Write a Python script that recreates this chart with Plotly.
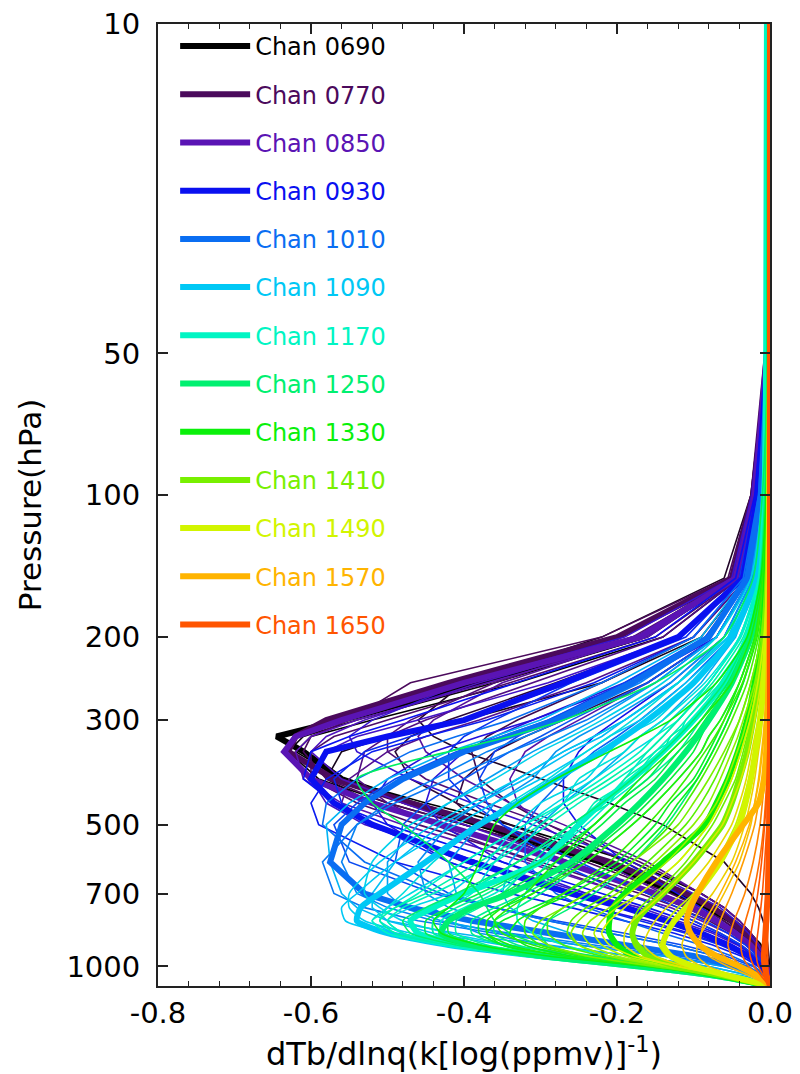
import math
import plotly.graph_objects as go

# ---------------- data ----------------
P_HPA = [10, 50, 100, 150, 200, 250, 300, 325, 350, 400, 450, 500,
         600, 700, 750, 800, 850, 900, 950, 1000, 1050, 1100]

CHANNELS = ["0690", "0770", "0850", "0930", "1010", "1090", "1170",
            "1250", "1330", "1410", "1490", "1570", "1650"]

CHANNEL_COLORS = ["#000000", "#4b0a5c", "#5a14b4", "#0a10f0", "#0a6ef2",
                  "#00c8f5", "#00f5c3", "#00f070", "#0af00a", "#78f000",
                  "#d2f500", "#ffb400", "#ff5500"]

THICK_0690 = [0, -0.003, -0.02, -0.045, -0.17, -0.38, -0.56, -0.645, -0.61, -0.56, -0.47, -0.38, -0.22, -0.12, -0.08, -0.05, -0.03, -0.015, -0.007, -0.003, -0.001, 0]
THIN_0690 = [
    [0, -0.003, -0.018, -0.04, -0.14, -0.33, -0.52, -0.60, -0.62, -0.56, -0.45, -0.34, -0.18, -0.09, -0.06, -0.04, -0.025, -0.014, -0.007, -0.003, -0.001, 0],
    [0, -0.003, -0.02, -0.045, -0.16, -0.36, -0.54, -0.61, -0.63, -0.59, -0.50, -0.40, -0.23, -0.12, -0.08, -0.05, -0.03, -0.017, -0.008, -0.003, -0.001, 0],
    [0, -0.002, -0.012, -0.03, -0.09, -0.22, -0.40, -0.50, -0.56, -0.58, -0.52, -0.43, -0.27, -0.15, -0.10, -0.07, -0.045, -0.027, -0.014, -0.006, -0.002, 0],
    [0, -0.004, -0.025, -0.06, -0.22, -0.40, -0.46, -0.44, -0.40, -0.30, -0.21, -0.14, -0.06, -0.025, -0.015, -0.009, -0.005, -0.003, -0.001, 0, 0, 0],
    [0, -0.003, -0.015, -0.035, -0.12, -0.28, -0.42, -0.47, -0.49, -0.47, -0.41, -0.34, -0.21, -0.12, -0.085, -0.06, -0.038, -0.022, -0.011, -0.004, -0.001, 0],
    [0, -0.002, -0.01, -0.025, -0.07, -0.16, -0.27, -0.32, -0.36, -0.40, -0.41, -0.38, -0.27, -0.16, -0.11, -0.075, -0.05, -0.03, -0.016, -0.007, -0.002, 0],
    [0, -0.002, -0.012, -0.03, -0.10, -0.22, -0.33, -0.37, -0.39, -0.38, -0.34, -0.29, -0.19, -0.11, -0.08, -0.055, -0.035, -0.02, -0.01, -0.004, -0.001, 0],
]

THICK_0770 = [0, -0.004, -0.022, -0.05, -0.20, -0.42, -0.58, -0.62, -0.63, -0.57, -0.47, -0.37, -0.21, -0.11, -0.075, -0.05, -0.03, -0.018, -0.009, -0.004, -0.001, 0]
THIN_0770 = [
    [0, -0.004, -0.025, -0.055, -0.22, -0.47, -0.55, -0.60, -0.61, -0.58, -0.50, -0.40, -0.24, -0.13, -0.09, -0.06, -0.035, -0.02, -0.01, -0.004, -0.001, 0],
    [0, -0.003, -0.018, -0.04, -0.15, -0.34, -0.50, -0.57, -0.60, -0.60, -0.54, -0.46, -0.30, -0.17, -0.12, -0.08, -0.05, -0.03, -0.015, -0.006, -0.002, 0],
    [0, -0.003, -0.02, -0.045, -0.18, -0.36, -0.47, -0.50, -0.50, -0.45, -0.37, -0.29, -0.17, -0.09, -0.06, -0.04, -0.025, -0.014, -0.007, -0.003, -0.001, 0],
    [0, -0.003, -0.017, -0.04, -0.14, -0.31, -0.45, -0.50, -0.53, -0.54, -0.50, -0.44, -0.31, -0.19, -0.14, -0.10, -0.065, -0.038, -0.019, -0.008, -0.002, 0],
    [0, -0.002, -0.012, -0.03, -0.10, -0.24, -0.38, -0.45, -0.50, -0.55, -0.56, -0.52, -0.40, -0.26, -0.19, -0.13, -0.085, -0.05, -0.026, -0.011, -0.003, 0],
    [0, -0.003, -0.02, -0.045, -0.17, -0.35, -0.44, -0.46, -0.45, -0.40, -0.34, -0.27, -0.16, -0.09, -0.06, -0.04, -0.025, -0.014, -0.007, -0.003, -0.001, 0],
    [0, -0.002, -0.01, -0.024, -0.07, -0.16, -0.25, -0.29, -0.32, -0.34, -0.33, -0.30, -0.22, -0.14, -0.10, -0.07, -0.045, -0.026, -0.013, -0.005, -0.001, 0],
]

THICK_0850 = [0, -0.004, -0.02, -0.045, -0.17, -0.40, -0.56, -0.62, -0.635, -0.60, -0.52, -0.43, -0.27, -0.15, -0.10, -0.07, -0.045, -0.026, -0.013, -0.005, -0.001, 0]
THIN_0850 = [
    [0, -0.003, -0.02, -0.045, -0.16, -0.37, -0.54, -0.60, -0.62, -0.61, -0.56, -0.48, -0.32, -0.19, -0.13, -0.09, -0.055, -0.032, -0.016, -0.006, -0.002, 0],
    [0, -0.003, -0.02, -0.045, -0.17, -0.38, -0.53, -0.58, -0.60, -0.56, -0.48, -0.40, -0.26, -0.15, -0.11, -0.075, -0.048, -0.028, -0.014, -0.005, -0.001, 0],
    [0, -0.003, -0.015, -0.035, -0.12, -0.29, -0.46, -0.54, -0.58, -0.60, -0.58, -0.53, -0.38, -0.24, -0.17, -0.12, -0.075, -0.043, -0.021, -0.008, -0.002, 0],
    [0, -0.004, -0.024, -0.05, -0.19, -0.40, -0.52, -0.55, -0.54, -0.47, -0.39, -0.31, -0.18, -0.10, -0.065, -0.045, -0.028, -0.016, -0.008, -0.003, -0.001, 0],
    [0, -0.002, -0.012, -0.028, -0.08, -0.19, -0.31, -0.36, -0.40, -0.44, -0.45, -0.43, -0.35, -0.24, -0.18, -0.13, -0.085, -0.05, -0.025, -0.01, -0.003, 0],
    [0, -0.002, -0.01, -0.025, -0.07, -0.18, -0.31, -0.38, -0.44, -0.50, -0.52, -0.50, -0.42, -0.30, -0.23, -0.16, -0.105, -0.062, -0.031, -0.012, -0.003, 0],
    [0, -0.002, -0.01, -0.022, -0.06, -0.13, -0.20, -0.23, -0.25, -0.27, -0.27, -0.25, -0.19, -0.12, -0.09, -0.065, -0.042, -0.025, -0.012, -0.005, -0.001, 0],
]

THICK_0930 = [0, -0.003, -0.016, -0.035, -0.12, -0.27, -0.40, -0.50, -0.58, -0.60, -0.57, -0.52, -0.39, -0.26, -0.19, -0.135, -0.09, -0.055, -0.028, -0.011, -0.003, 0]
THIN_0930 = [
    [0, -0.004, -0.02, -0.045, -0.15, -0.33, -0.48, -0.55, -0.60, -0.61, -0.57, -0.50, -0.35, -0.22, -0.16, -0.11, -0.07, -0.04, -0.02, -0.008, -0.002, 0],
    [0, -0.003, -0.015, -0.035, -0.10, -0.23, -0.37, -0.45, -0.52, -0.58, -0.60, -0.59, -0.49, -0.34, -0.26, -0.19, -0.125, -0.075, -0.038, -0.015, -0.004, 0],
    [0, -0.003, -0.016, -0.036, -0.11, -0.26, -0.40, -0.47, -0.53, -0.57, -0.56, -0.52, -0.42, -0.30, -0.23, -0.17, -0.11, -0.065, -0.032, -0.012, -0.003, 0],
    [0, -0.003, -0.018, -0.04, -0.12, -0.26, -0.36, -0.40, -0.42, -0.42, -0.39, -0.35, -0.25, -0.16, -0.12, -0.085, -0.055, -0.032, -0.016, -0.006, -0.002, 0],
    [0, -0.002, -0.012, -0.028, -0.085, -0.19, -0.29, -0.33, -0.36, -0.38, -0.37, -0.35, -0.28, -0.19, -0.14, -0.10, -0.065, -0.038, -0.019, -0.008, -0.002, 0],
    [0, -0.002, -0.012, -0.03, -0.08, -0.18, -0.29, -0.35, -0.41, -0.49, -0.54, -0.57, -0.55, -0.44, -0.36, -0.28, -0.19, -0.115, -0.058, -0.022, -0.005, 0],
    [0, -0.002, -0.01, -0.024, -0.07, -0.16, -0.26, -0.30, -0.34, -0.40, -0.45, -0.48, -0.49, -0.42, -0.36, -0.29, -0.21, -0.13, -0.07, -0.03, -0.008, 0],
    [0, -0.001, -0.008, -0.018, -0.05, -0.11, -0.17, -0.20, -0.23, -0.27, -0.30, -0.32, -0.32, -0.28, -0.24, -0.19, -0.14, -0.09, -0.05, -0.02, -0.005, 0],
]

THICK_1010 = [0, -0.002, -0.012, -0.03, -0.08, -0.18, -0.28, -0.34, -0.40, -0.48, -0.53, -0.56, -0.575, -0.53, -0.47, -0.39, -0.29, -0.19, -0.10, -0.04, -0.01, 0]
THIN_1010 = [
    [0, -0.003, -0.015, -0.035, -0.10, -0.22, -0.34, -0.41, -0.47, -0.54, -0.58, -0.585, -0.53, -0.43, -0.36, -0.29, -0.21, -0.13, -0.07, -0.028, -0.007, 0],
    [0, -0.002, -0.01, -0.025, -0.07, -0.15, -0.24, -0.29, -0.34, -0.42, -0.49, -0.54, -0.585, -0.57, -0.53, -0.46, -0.36, -0.25, -0.14, -0.06, -0.015, 0],
    [0, -0.002, -0.012, -0.028, -0.08, -0.17, -0.27, -0.32, -0.37, -0.44, -0.50, -0.54, -0.56, -0.54, -0.50, -0.44, -0.34, -0.23, -0.13, -0.055, -0.014, 0],
    [0, -0.002, -0.01, -0.022, -0.06, -0.12, -0.19, -0.23, -0.27, -0.33, -0.38, -0.42, -0.46, -0.45, -0.42, -0.37, -0.29, -0.20, -0.11, -0.045, -0.012, 0],
    [0, -0.002, -0.01, -0.022, -0.06, -0.13, -0.21, -0.25, -0.28, -0.31, -0.36, -0.38, -0.42, -0.41, -0.44, -0.42, -0.38, -0.29, -0.18, -0.08, -0.02, 0],
    [0, -0.002, -0.011, -0.025, -0.07, -0.15, -0.23, -0.27, -0.31, -0.37, -0.42, -0.46, -0.50, -0.50, -0.48, -0.43, -0.35, -0.25, -0.14, -0.06, -0.015, 0],
    [0, -0.001, -0.007, -0.016, -0.045, -0.09, -0.14, -0.17, -0.19, -0.23, -0.27, -0.30, -0.34, -0.35, -0.34, -0.31, -0.26, -0.19, -0.11, -0.05, -0.013, 0],
    [0, -0.003, -0.014, -0.032, -0.09, -0.20, -0.30, -0.36, -0.42, -0.50, -0.55, -0.58, -0.575, -0.56, -0.54, -0.50, -0.41, -0.30, -0.18, -0.08, -0.02, 0],
    [0, -0.002, -0.009, -0.02, -0.055, -0.12, -0.19, -0.22, -0.26, -0.32, -0.38, -0.43, -0.49, -0.52, -0.52, -0.50, -0.44, -0.35, -0.23, -0.11, -0.03, 0],
]

THICK_1090 = [0, -0.002, -0.008, -0.018, -0.05, -0.10, -0.16, -0.19, -0.22, -0.28, -0.33, -0.38, -0.45, -0.51, -0.535, -0.54, -0.50, -0.42, -0.30, -0.16, -0.06, 0]
THIN_1090 = [
    [0, -0.002, -0.008, -0.02, -0.05, -0.11, -0.17, -0.21, -0.24, -0.30, -0.36, -0.41, -0.49, -0.54, -0.56, -0.555, -0.50, -0.42, -0.31, -0.17, -0.07, 0],
    [0, -0.002, -0.009, -0.02, -0.055, -0.12, -0.19, -0.23, -0.27, -0.33, -0.39, -0.44, -0.51, -0.55, -0.55, -0.53, -0.47, -0.39, -0.28, -0.15, -0.06, 0],
    [0, -0.002, -0.01, -0.025, -0.07, -0.14, -0.22, -0.26, -0.30, -0.36, -0.42, -0.47, -0.52, -0.53, -0.51, -0.48, -0.42, -0.34, -0.24, -0.13, -0.05, 0],
    [0, -0.002, -0.008, -0.018, -0.05, -0.10, -0.15, -0.19, -0.21, -0.24, -0.30, -0.33, -0.37, -0.42, -0.47, -0.50, -0.48, -0.41, -0.30, -0.16, -0.06, 0],
    [0, -0.001, -0.006, -0.015, -0.04, -0.08, -0.13, -0.15, -0.18, -0.23, -0.28, -0.32, -0.40, -0.47, -0.50, -0.52, -0.49, -0.41, -0.30, -0.16, -0.06, 0],
    [0, -0.002, -0.009, -0.021, -0.06, -0.12, -0.18, -0.21, -0.24, -0.29, -0.34, -0.38, -0.44, -0.48, -0.50, -0.51, -0.48, -0.41, -0.30, -0.16, -0.06, 0],
    [0, -0.001, -0.006, -0.014, -0.04, -0.085, -0.14, -0.17, -0.19, -0.25, -0.27, -0.31, -0.36, -0.39, -0.42, -0.44, -0.44, -0.39, -0.29, -0.16, -0.06, 0],
    [-0.004, -0.005, -0.006, -0.012, -0.03, -0.06, -0.10, -0.12, -0.14, -0.18, -0.22, -0.26, -0.33, -0.40, -0.44, -0.47, -0.46, -0.40, -0.30, -0.17, -0.065, 0],
    [0, -0.001, -0.006, -0.014, -0.038, -0.08, -0.12, -0.14, -0.16, -0.19, -0.22, -0.25, -0.29, -0.32, -0.33, -0.33, -0.31, -0.27, -0.21, -0.12, -0.05, 0],
    [0, -0.001, -0.005, -0.012, -0.03, -0.065, -0.10, -0.12, -0.14, -0.17, -0.21, -0.24, -0.30, -0.36, -0.40, -0.43, -0.43, -0.39, -0.30, -0.17, -0.065, 0],
]

THICK_1170 = [-0.004, -0.005, -0.007, -0.012, -0.03, -0.06, -0.10, -0.12, -0.14, -0.18, -0.22, -0.25, -0.30, -0.40, -0.44, -0.47, -0.46, -0.40, -0.30, -0.17, -0.065, 0]
THIN_1170 = [
    [0, -0.001, -0.006, -0.015, -0.04, -0.08, -0.12, -0.15, -0.17, -0.22, -0.27, -0.32, -0.40, -0.46, -0.49, -0.52, -0.50, -0.43, -0.32, -0.18, -0.07, 0],
    [0, -0.001, -0.005, -0.012, -0.03, -0.07, -0.11, -0.13, -0.15, -0.20, -0.25, -0.29, -0.36, -0.44, -0.48, -0.50, -0.48, -0.41, -0.30, -0.17, -0.065, 0],
    [0, -0.001, -0.005, -0.012, -0.03, -0.065, -0.11, -0.12, -0.15, -0.18, -0.23, -0.25, -0.33, -0.40, -0.44, -0.47, -0.46, -0.40, -0.30, -0.17, -0.065, 0],
    [0, -0.001, -0.005, -0.013, -0.035, -0.075, -0.12, -0.14, -0.16, -0.21, -0.26, -0.30, -0.38, -0.45, -0.49, -0.51, -0.49, -0.42, -0.31, -0.17, -0.065, 0],
    [0, -0.001, -0.004, -0.01, -0.026, -0.06, -0.10, -0.13, -0.14, -0.19, -0.21, -0.26, -0.31, -0.35, -0.38, -0.41, -0.41, -0.37, -0.28, -0.16, -0.06, 0],
    [0, -0.001, -0.004, -0.01, -0.025, -0.055, -0.09, -0.105, -0.12, -0.16, -0.20, -0.23, -0.30, -0.37, -0.41, -0.44, -0.44, -0.39, -0.30, -0.17, -0.065, 0],
    [0, -0.001, -0.004, -0.01, -0.025, -0.05, -0.08, -0.095, -0.11, -0.14, -0.17, -0.20, -0.25, -0.32, -0.36, -0.39, -0.39, -0.35, -0.27, -0.15, -0.06, 0],
    [0, -0.001, -0.003, -0.008, -0.02, -0.04, -0.065, -0.08, -0.09, -0.12, -0.15, -0.18, -0.24, -0.30, -0.33, -0.36, -0.36, -0.33, -0.26, -0.15, -0.06, 0],
    [0, -0.001, -0.003, -0.007, -0.018, -0.035, -0.055, -0.065, -0.075, -0.095, -0.115, -0.135, -0.18, -0.23, -0.26, -0.29, -0.30, -0.29, -0.24, -0.15, -0.06, 0],
]

THICK_1250 = [0, -0.001, -0.004, -0.01, -0.025, -0.05, -0.08, -0.095, -0.11, -0.14, -0.17, -0.20, -0.26, -0.34, -0.39, -0.42, -0.43, -0.39, -0.30, -0.17, -0.065, 0]
THIN_1250 = [
    [0, -0.001, -0.005, -0.012, -0.03, -0.06, -0.10, -0.12, -0.14, -0.18, -0.22, -0.26, -0.33, -0.41, -0.45, -0.48, -0.47, -0.41, -0.31, -0.17, -0.065, 0],
    [0, -0.002, -0.01, -0.022, -0.06, -0.15, -0.27, -0.34, -0.42, -0.54, -0.52, -0.48, -0.42, -0.38, -0.37, -0.36, -0.34, -0.30, -0.23, -0.13, -0.05, 0],
    [0, -0.001, -0.005, -0.011, -0.028, -0.055, -0.09, -0.11, -0.13, -0.16, -0.20, -0.23, -0.30, -0.38, -0.42, -0.45, -0.45, -0.40, -0.30, -0.17, -0.065, 0],
    [0, -0.001, -0.004, -0.01, -0.024, -0.05, -0.085, -0.10, -0.12, -0.15, -0.19, -0.22, -0.28, -0.35, -0.39, -0.42, -0.42, -0.38, -0.29, -0.16, -0.06, 0],
    [0, -0.001, -0.004, -0.01, -0.025, -0.05, -0.08, -0.09, -0.10, -0.13, -0.16, -0.19, -0.25, -0.31, -0.35, -0.38, -0.38, -0.35, -0.28, -0.16, -0.06, 0],
    [-0.003, -0.004, -0.005, -0.008, -0.02, -0.04, -0.06, -0.07, -0.08, -0.10, -0.13, -0.15, -0.20, -0.27, -0.31, -0.35, -0.37, -0.35, -0.28, -0.16, -0.06, 0],
    [0, -0.001, -0.003, -0.007, -0.017, -0.035, -0.055, -0.065, -0.075, -0.095, -0.12, -0.14, -0.19, -0.26, -0.30, -0.33, -0.34, -0.32, -0.26, -0.15, -0.06, 0],
]

THICK_1330 = [0, 0, -0.002, -0.005, -0.01, -0.02, -0.03, -0.036, -0.042, -0.055, -0.07, -0.085, -0.14, -0.19, -0.205, -0.21, -0.21, -0.20, -0.18, -0.13, -0.06, 0]
THIN_1330 = [
    [0, -0.001, -0.005, -0.012, -0.03, -0.07, -0.13, -0.17, -0.21, -0.28, -0.33, -0.36, -0.38, -0.40, -0.42, -0.44, -0.43, -0.38, -0.29, -0.16, -0.06, 0],
    [0, -0.001, -0.004, -0.01, -0.025, -0.05, -0.09, -0.11, -0.13, -0.17, -0.20, -0.23, -0.28, -0.32, -0.35, -0.37, -0.37, -0.34, -0.27, -0.16, -0.06, 0],
    [0, -0.001, -0.004, -0.009, -0.02, -0.04, -0.065, -0.08, -0.09, -0.12, -0.15, -0.18, -0.24, -0.31, -0.34, -0.36, -0.35, -0.31, -0.25, -0.15, -0.06, 0],
    [0, -0.001, -0.003, -0.008, -0.018, -0.036, -0.06, -0.072, -0.085, -0.11, -0.135, -0.16, -0.21, -0.27, -0.30, -0.32, -0.32, -0.30, -0.24, -0.15, -0.06, 0],
    [0, -0.001, -0.003, -0.007, -0.015, -0.03, -0.05, -0.06, -0.07, -0.09, -0.11, -0.13, -0.18, -0.24, -0.27, -0.29, -0.29, -0.27, -0.22, -0.14, -0.055, 0],
    [0, 0, -0.003, -0.006, -0.012, -0.025, -0.04, -0.048, -0.056, -0.072, -0.09, -0.11, -0.16, -0.21, -0.24, -0.26, -0.265, -0.25, -0.21, -0.14, -0.055, 0],
    [0, 0, -0.002, -0.004, -0.008, -0.015, -0.025, -0.03, -0.035, -0.045, -0.06, -0.075, -0.11, -0.15, -0.17, -0.18, -0.18, -0.17, -0.15, -0.11, -0.05, 0],
]

THICK_1410 = [0, 0, -0.001, -0.003, -0.007, -0.014, -0.022, -0.026, -0.03, -0.04, -0.05, -0.062, -0.10, -0.14, -0.16, -0.175, -0.18, -0.175, -0.16, -0.12, -0.055, 0]
THIN_1410 = [
    [0, -0.001, -0.003, -0.006, -0.012, -0.025, -0.04, -0.05, -0.06, -0.08, -0.10, -0.12, -0.18, -0.24, -0.27, -0.30, -0.31, -0.29, -0.24, -0.15, -0.06, 0],
    [0, 0, -0.002, -0.005, -0.01, -0.02, -0.035, -0.042, -0.05, -0.065, -0.08, -0.10, -0.15, -0.20, -0.23, -0.25, -0.26, -0.25, -0.21, -0.14, -0.055, 0],
    [0, 0, -0.002, -0.004, -0.009, -0.018, -0.03, -0.036, -0.043, -0.056, -0.07, -0.09, -0.135, -0.185, -0.21, -0.235, -0.245, -0.235, -0.2, -0.135, -0.055, 0],
    [0, 0, -0.002, -0.004, -0.008, -0.016, -0.026, -0.032, -0.038, -0.05, -0.064, -0.08, -0.12, -0.17, -0.20, -0.22, -0.23, -0.22, -0.19, -0.13, -0.055, 0],
    [0, 0, -0.001, -0.002, -0.005, -0.01, -0.015, -0.018, -0.02, -0.028, -0.036, -0.045, -0.07, -0.10, -0.12, -0.135, -0.145, -0.145, -0.135, -0.10, -0.05, 0],
]

THICK_1490 = [0, 0, -0.001, -0.002, -0.004, -0.008, -0.013, -0.016, -0.019, -0.025, -0.032, -0.04, -0.065, -0.095, -0.11, -0.125, -0.135, -0.14, -0.13, -0.10, -0.05, 0]
THIN_1490 = [
    [0, 0, -0.002, -0.004, -0.008, -0.016, -0.026, -0.032, -0.038, -0.05, -0.065, -0.08, -0.12, -0.17, -0.19, -0.21, -0.22, -0.21, -0.18, -0.12, -0.05, 0],
    [0, 0, -0.001, -0.003, -0.006, -0.012, -0.02, -0.024, -0.028, -0.038, -0.05, -0.062, -0.10, -0.14, -0.16, -0.18, -0.19, -0.19, -0.17, -0.12, -0.055, 0],
    [0, 0, -0.001, -0.002, -0.005, -0.01, -0.016, -0.02, -0.024, -0.031, -0.04, -0.05, -0.08, -0.115, -0.135, -0.15, -0.16, -0.165, -0.15, -0.11, -0.05, 0],
    [0, 0, -0.001, -0.002, -0.003, -0.006, -0.01, -0.012, -0.015, -0.02, -0.026, -0.033, -0.05, -0.075, -0.09, -0.10, -0.11, -0.115, -0.11, -0.09, -0.045, 0],
    [0, 0, 0, -0.001, -0.002, -0.004, -0.007, -0.009, -0.011, -0.015, -0.02, -0.025, -0.04, -0.06, -0.07, -0.08, -0.09, -0.095, -0.095, -0.08, -0.045, 0],
]

THICK_1570 = [0, 0, 0, 0, -0.001, -0.002, -0.003, -0.004, -0.005, -0.008, -0.015, -0.035, -0.07, -0.095, -0.104, -0.109, -0.104, -0.092, -0.07, -0.04, -0.015, 0]
THIN_1570 = [
    [0, 0, 0, -0.001, -0.002, -0.004, -0.007, -0.008, -0.01, -0.014, -0.02, -0.027, -0.045, -0.065, -0.075, -0.085, -0.09, -0.09, -0.08, -0.055, -0.025, 0],
    [0, 0, 0, -0.001, -0.002, -0.003, -0.005, -0.006, -0.007, -0.01, -0.015, -0.02, -0.035, -0.05, -0.058, -0.065, -0.07, -0.07, -0.06, -0.04, -0.018, 0],
    [0, 0, 0, 0, -0.001, -0.002, -0.003, -0.004, -0.005, -0.007, -0.01, -0.013, -0.022, -0.033, -0.04, -0.047, -0.052, -0.055, -0.05, -0.037, -0.018, 0],
    [0, 0, 0, 0, -0.001, -0.001, -0.002, -0.002, -0.003, -0.004, -0.006, -0.008, -0.014, -0.022, -0.027, -0.032, -0.036, -0.038, -0.036, -0.028, -0.014, 0],
]

THICK_1650 = [0, 0, 0, 0, 0, 0, 0, 0, 0, 0, -0.001, -0.001, -0.002, -0.003, -0.004, -0.005, -0.006, -0.007, -0.008, -0.007, -0.004, 0]
THIN_1650 = [
    [0, 0, 0, 0, 0, -0.001, -0.002, -0.002, -0.003, -0.004, -0.005, -0.007, -0.011, -0.016, -0.019, -0.022, -0.025, -0.027, -0.026, -0.021, -0.011, 0],
    [0, 0, 0, 0, 0, 0, -0.001, -0.001, -0.001, -0.002, -0.003, -0.004, -0.007, -0.01, -0.012, -0.014, -0.016, -0.018, -0.018, -0.015, -0.008, 0],
    [0, 0, 0, 0, 0, 0, 0, 0, 0, 0, 0, 0, -0.001, -0.001, -0.002, -0.002, -0.003, -0.003, -0.003, -0.003, -0.002, 0],
]

X_TICKS = [-0.8, -0.6, -0.4, -0.2, 0.0]
X_TICK_LABELS = ["-0.8", "-0.6", "-0.4", "-0.2", "0.0"]
Y_TICKS = [10, 50, 100, 200, 300, 500, 700, 1000]
Y_TICK_LABELS = ["10", "50", "100", "200", "300", "500", "700", "1000"]

# ---------------- figure ----------------
THICK = [THICK_0690, THICK_0770, THICK_0850, THICK_0930, THICK_1010, THICK_1090,
         THICK_1170, THICK_1250, THICK_1330, THICK_1410, THICK_1490, THICK_1570, THICK_1650]
THIN = [THIN_0690, THIN_0770, THIN_0850, THIN_0930, THIN_1010, THIN_1090,
        THIN_1170, THIN_1250, THIN_1330, THIN_1410, THIN_1490, THIN_1570, THIN_1650]


def mix(c1, c2, t):
    a = [int(c1[i:i + 2], 16) for i in (1, 3, 5)]
    b = [int(c2[i:i + 2], 16) for i in (1, 3, 5)]
    return "#" + "".join(f"{round(a[i] + (b[i] - a[i]) * t):02x}" for i in range(3))


FONT = "DejaVu Sans"
fig = go.Figure()

for k, ch in enumerate(CHANNELS):
    color = CHANNEL_COLORS[k]
    nxt = CHANNEL_COLORS[min(k + 1, len(CHANNELS) - 1)]
    shape = "linear" if k < 5 else "spline"
    n = len(THIN[k])
    for j, prof in enumerate(THIN[k]):
        assert len(prof) == len(P_HPA)
        fig.add_trace(go.Scatter(x=prof, y=P_HPA, mode="lines",
                                 line=dict(color=mix(color, nxt, j / n), width=1.6,
                                           shape=shape, smoothing=0.6),
                                 showlegend=False, hoverinfo="skip"))
    assert len(THICK[k]) == len(P_HPA)
    fig.add_trace(go.Scatter(x=THICK[k], y=P_HPA, mode="lines",
                             line=dict(color=color, width=6, shape=shape, smoothing=0.6),
                             name=f"<span style='color:{color}'>Chan {ch}</span>",
                             legendgroup=ch, showlegend=True))

axis_common = dict(showline=True, linewidth=2, linecolor="#222222", mirror="ticks",
                   ticks="inside", ticklen=10, tickwidth=1.6, tickcolor="#222222",
                   showgrid=False, zeroline=False, automargin=False,
                   ticklabeloverflow="allow")

fig.update_xaxes(range=[-0.8, 0.0], tickvals=X_TICKS, ticktext=X_TICK_LABELS,
                 tickfont=dict(family=FONT, size=29, color="black"),
                 minor=dict(dtick=0.04, ticks="inside", ticklen=5, tickwidth=1.2, tickcolor="#222222"),
                 title=dict(text="dTb/dlnq(k[log(ppmv)]<sup>-1</sup>)",
                            font=dict(family=FONT, size=32, color="black"), standoff=14),
                 **axis_common)
fig.update_yaxes(type="log", range=[math.log10(1100), 1],
                 tickvals=Y_TICKS, ticktext=Y_TICK_LABELS,
                 tickfont=dict(family=FONT, size=29, color="black"),
                 ticklabelstandoff=10,
                 title=dict(text="Pressure(hPa)", font=dict(family=FONT, size=31, color="black"),
                            standoff=16),
                 **axis_common)

# the page body adds an 8 px offset at the top-left, so the figure is sized to end at the window edge
fig.update_layout(width=792, height=1066,
                  margin=dict(l=150, r=30, t=16, b=88),
                  paper_bgcolor="white", plot_bgcolor="white",
                  font=dict(family=FONT, color="black"),
                  legend=dict(x=0.028, y=1.0, xanchor="left", yanchor="top",
                              bgcolor="rgba(0,0,0,0)", font=dict(family=FONT, size=24),
                              itemwidth=70, tracegroupgap=14))

fig.write_html("out.html")
